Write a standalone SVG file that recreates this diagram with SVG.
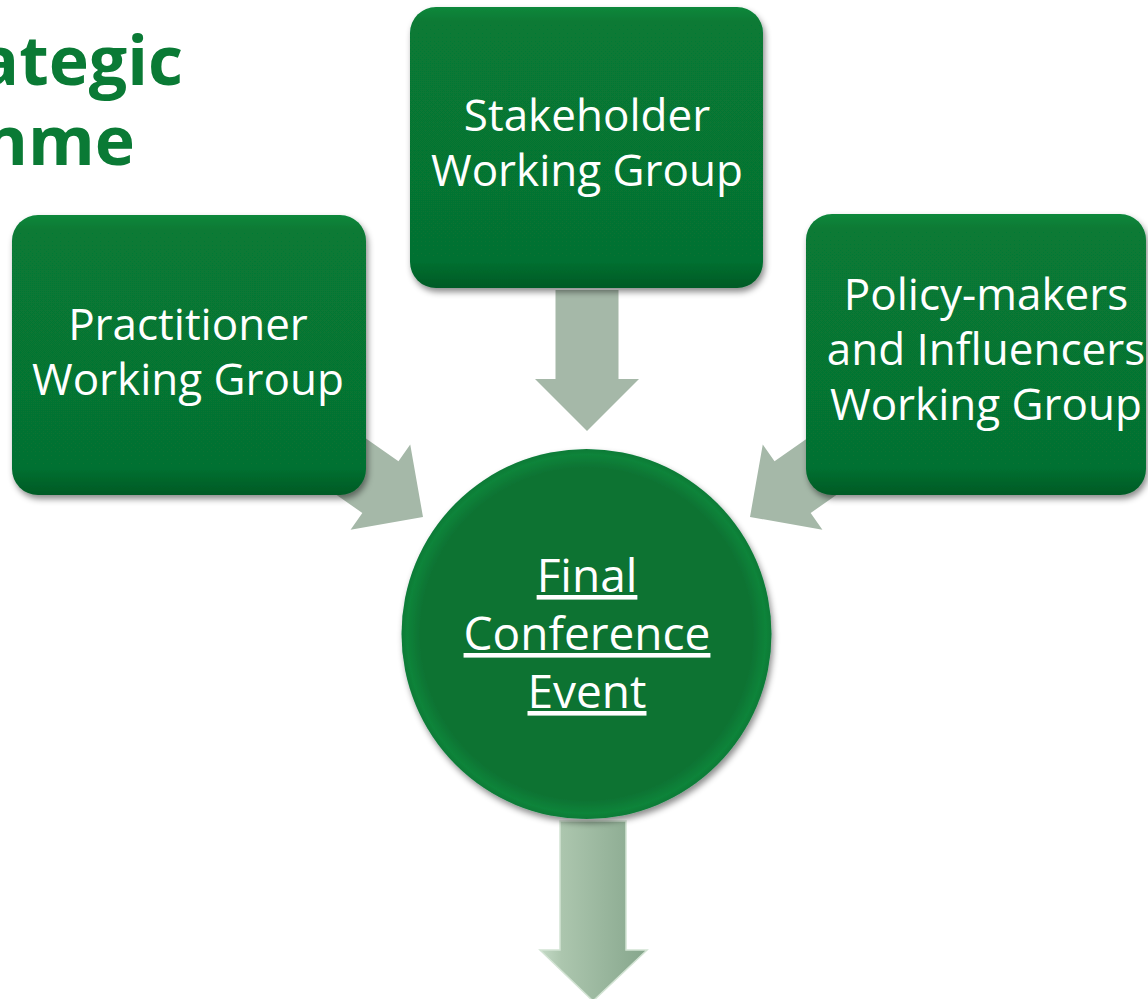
<svg xmlns="http://www.w3.org/2000/svg" width="1148" height="999" viewBox="0 0 1148 999">
  <style>
    .box { fill: url(#boxGrad); filter: url(#shadow); }
    .lbl { font-family: "Open Sans", "Noto Sans", sans-serif; font-size: 44px; fill: #ffffff; text-anchor: middle; }
    .clbl { font-family: "Open Sans", "Noto Sans", sans-serif; font-size: 46px; fill: #ffffff; text-anchor: middle; text-decoration: underline; }
    .title { font-family: "Open Sans", "Noto Sans", sans-serif; font-weight: bold; font-size: 68px; fill: #0a7a35; text-anchor: end; }
    .flat { fill: #a5b8a8; }
  </style>
  <defs>
    <linearGradient id="boxGrad" x1="0" y1="0" x2="0" y2="1">
      <stop offset="0" stop-color="#0a883b"/>
      <stop offset="0.05" stop-color="#077a35"/>
      <stop offset="0.9" stop-color="#067131"/>
      <stop offset="1" stop-color="#045a25"/>
    </linearGradient>
    <radialGradient id="circGrad" cx="0.5" cy="0.5" r="0.5">
      <stop offset="0" stop-color="#077332"/>
      <stop offset="0.9" stop-color="#077333"/>
      <stop offset="0.97" stop-color="#0a843a"/>
      <stop offset="1" stop-color="#087a36"/>
    </radialGradient>
    <linearGradient id="downGrad" x1="0" y1="0" x2="1" y2="0">
      <stop offset="0" stop-color="#c4dac6"/>
      <stop offset="0.2" stop-color="#acc6ae"/>
      <stop offset="1" stop-color="#86a68c"/>
    </linearGradient>
    <filter id="shadow" x="-10%" y="-10%" width="125%" height="125%">
      <feDropShadow dx="2" dy="4" stdDeviation="3" flood-color="#000000" flood-opacity="0.45"/>
    </filter>
  </defs>

  <g id="title">
    <text class="title" x="183" y="85">ategic</text>
    <text class="title" x="135" y="165">nme</text>
  </g>

  <g id="connectors">
    <path class="flat" transform="translate(587,431)" d="M-31.5,-141 L31.5,-141 L31.5,-52 L52,-52 L0,0 L-52,-52 L-31.5,-52 Z"/>
    <path class="flat" transform="translate(423,517) rotate(-55)" d="M-31.5,-141 L31.5,-141 L31.5,-52 L52,-52 L0,0 L-52,-52 L-31.5,-52 Z"/>
    <path class="flat" transform="translate(750,517) rotate(55)" d="M-31.5,-141 L31.5,-141 L31.5,-52 L52,-52 L0,0 L-52,-52 L-31.5,-52 Z"/>
    <path fill="url(#downGrad)" stroke="#d2e3d3" stroke-width="1.5" d="M560,821 L626,821 L626,950 L647,950 L593,1001 L540,950 L560,950 Z"/>
  </g>

  <g id="stakeholder">
    <rect class="box" x="410" y="7" width="353" height="281" rx="26"/>
    <text class="lbl" x="587" y="131">Stakeholder</text>
    <text class="lbl" x="587" y="186">Working Group</text>
  </g>

  <g id="practitioner">
    <rect class="box" x="12" y="215" width="354" height="280" rx="26"/>
    <text class="lbl" x="188" y="340">Practitioner</text>
    <text class="lbl" x="188" y="395">Working Group</text>
  </g>

  <g id="policy">
    <rect class="box" x="806" y="214" width="340" height="281" rx="26"/>
    <text class="lbl" x="986" y="310">Policy-makers</text>
    <text class="lbl" x="986" y="365">and Influencers</text>
    <text class="lbl" x="986" y="420">Working Group</text>
  </g>

  <g id="final">
    <circle cx="586.5" cy="634" r="185" fill="url(#circGrad)" filter="url(#shadow)"/>
    <text class="clbl" x="587" y="592">Final</text>
    <text class="clbl" x="587" y="650">Conference</text>
    <text class="clbl" x="587" y="708">Event</text>
  </g>
</svg>
